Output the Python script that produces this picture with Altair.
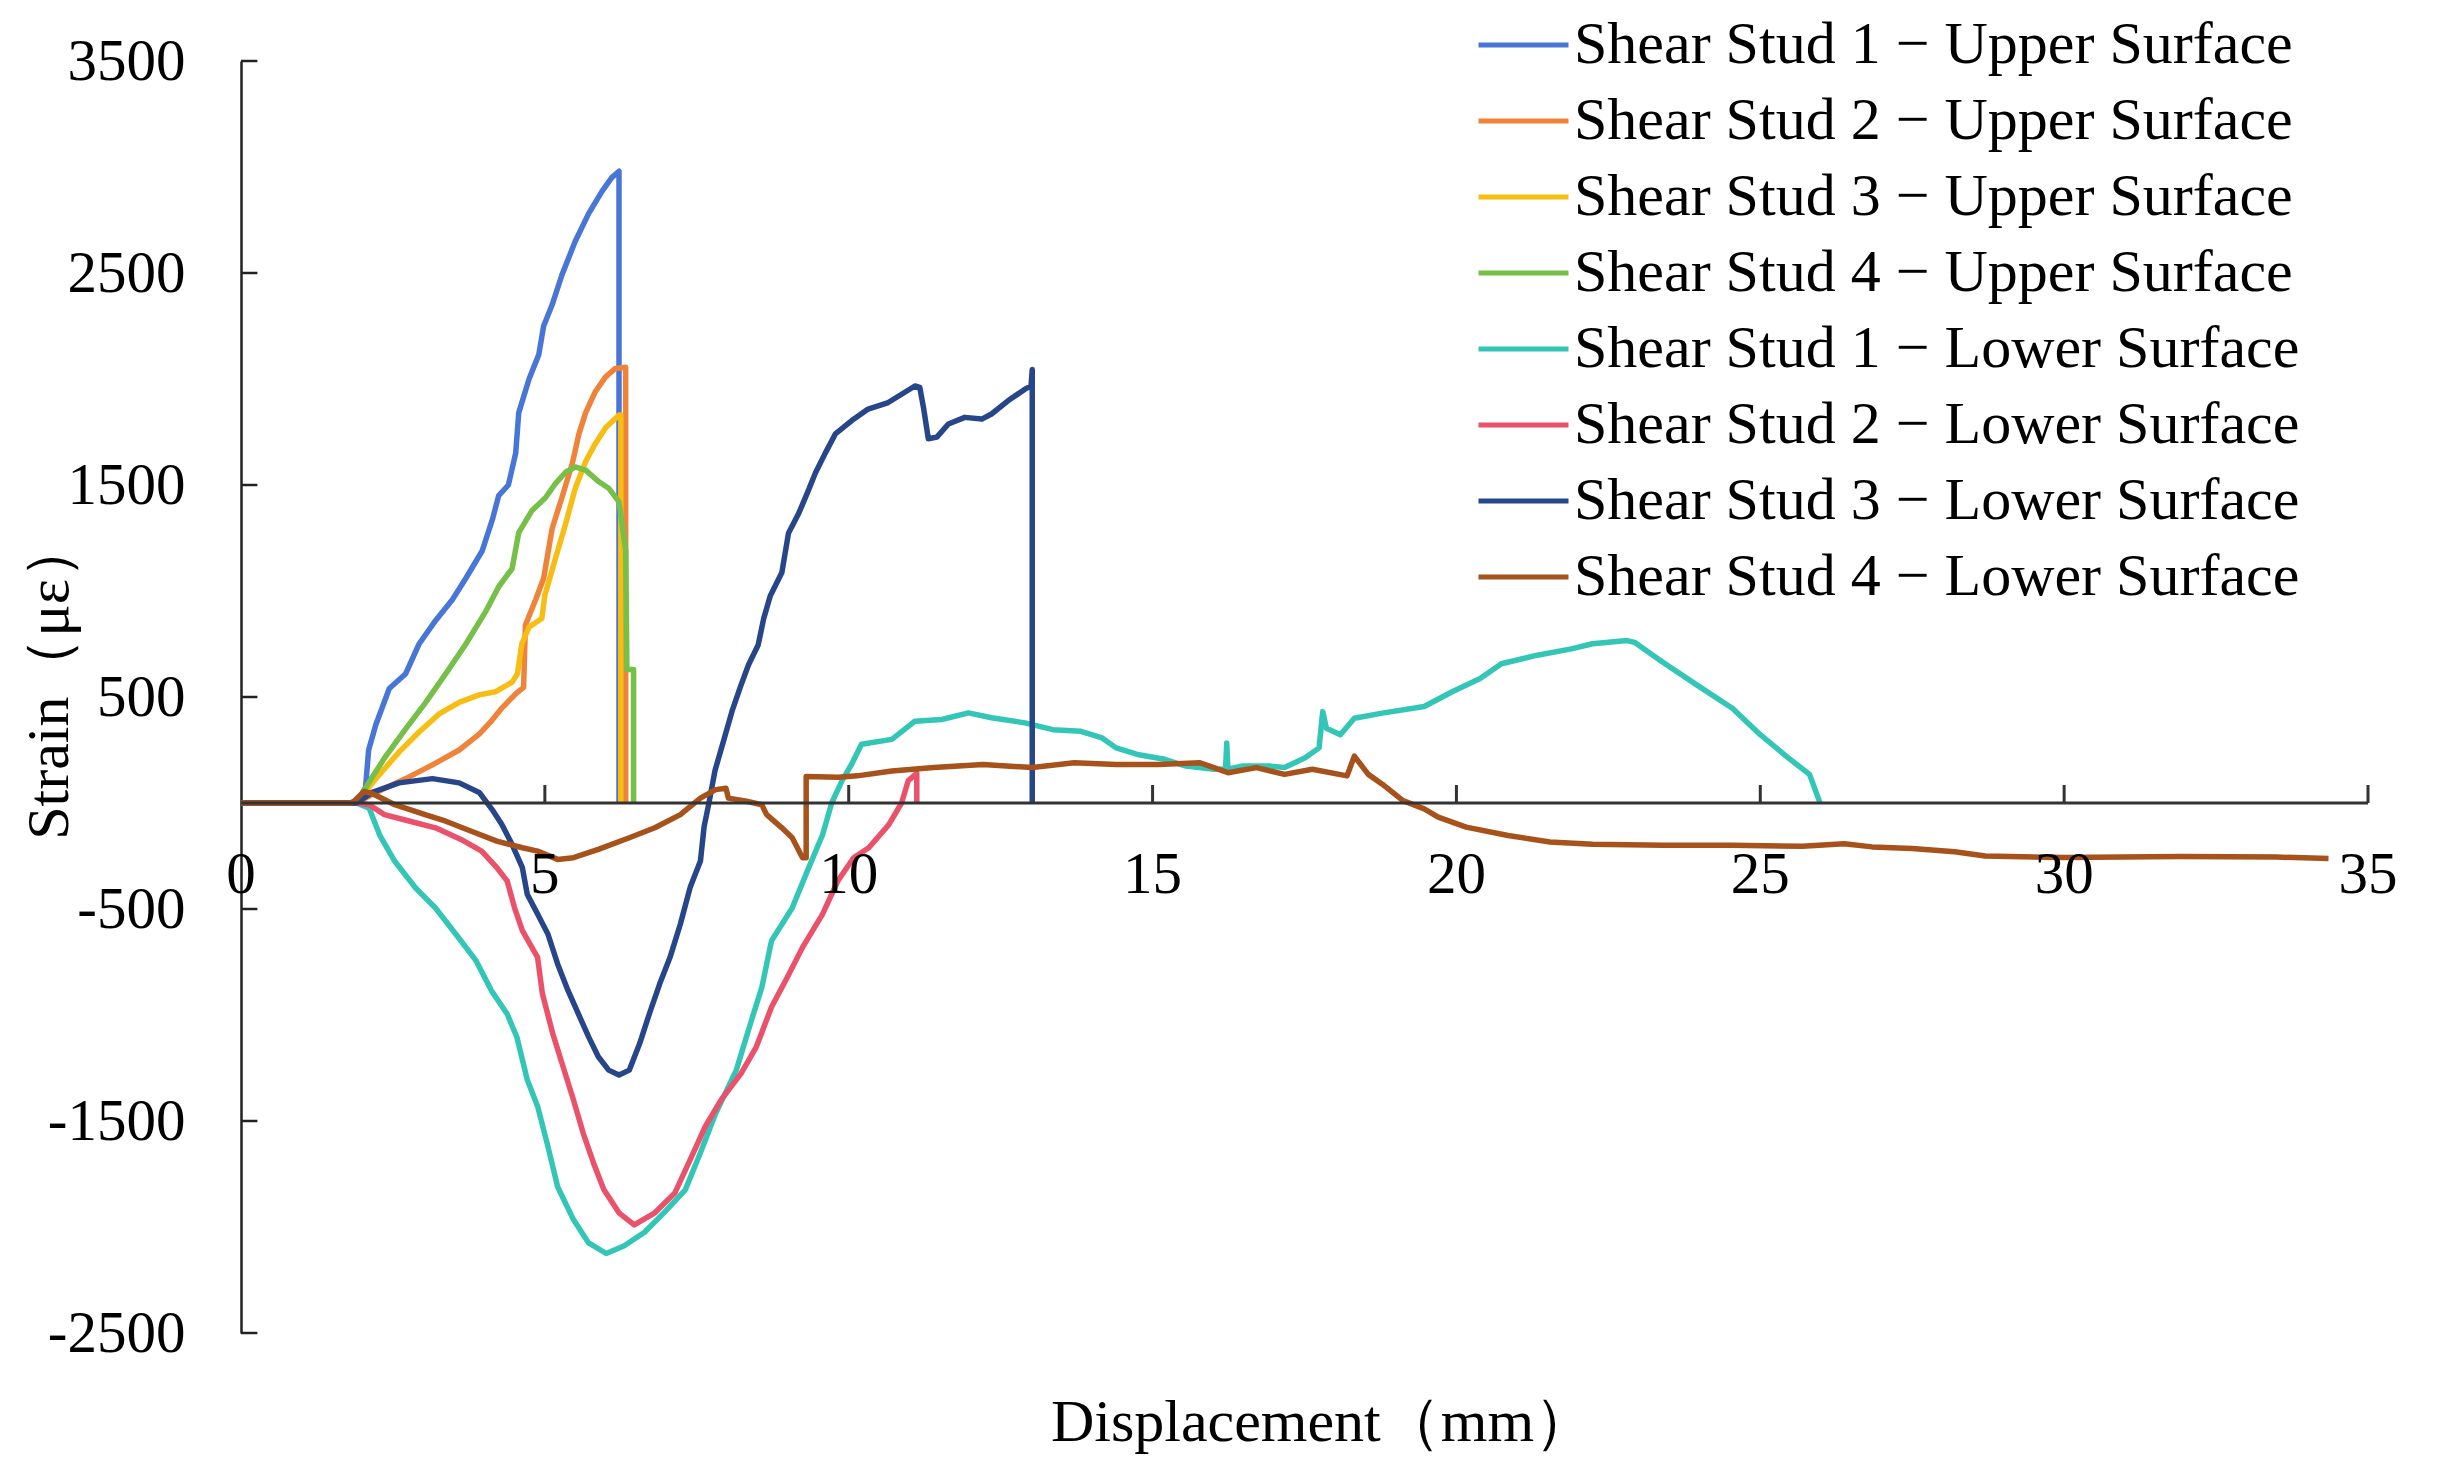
import altair as alt
import pandas as pd

# ---------------- data ----------------
series_names = [
    "Shear Stud 1 − Upper Surface",
    "Shear Stud 2 − Upper Surface",
    "Shear Stud 3 − Upper Surface",
    "Shear Stud 4 − Upper Surface",
    "Shear Stud 1 − Lower Surface",
    "Shear Stud 2 − Lower Surface",
    "Shear Stud 3 − Lower Surface",
    "Shear Stud 4 − Lower Surface",
]
colors = ["#4876d6", "#f0833a", "#f7bd12", "#76bf48",
          "#33c6b7", "#e9526a", "#27468a", "#a6521a"]

s1u_x = [0, 1.9, 2.05, 2.1, 2.22, 2.44, 2.71, 2.93, 3.2, 3.48, 3.7, 3.97, 4.14, 4.24, 4.4,
         4.52, 4.57, 4.74, 4.9, 4.98, 5.12, 5.28, 5.5, 5.72, 5.94, 6.1, 6.22, 6.22]
s1u_y = [0, 0, 75, 250, 370, 540, 610, 750, 860, 960, 1060, 1190, 1340, 1450, 1500,
         1650, 1840, 2000, 2115, 2250, 2350, 2490, 2650, 2780, 2885, 2950, 2980, 0]

s2u_x = [0, 1.9, 2.22, 2.71, 3.15, 3.59, 3.92, 4.13, 4.3, 4.52, 4.65, 4.68, 4.85, 4.98,
         5.12, 5.28, 5.45, 5.56, 5.67, 5.83, 6.0, 6.16, 6.33, 6.33]
s2u_y = [0, 0, 50, 115, 180, 250, 325, 390, 450, 515, 545, 840, 960, 1060,
         1295, 1440, 1600, 1740, 1840, 1940, 2010, 2050, 2055, 0]

s3u_x = [0, 1.9, 2.22, 2.6, 2.93, 3.26, 3.59, 3.92, 4.19, 4.46, 4.55, 4.62, 4.74, 4.95,
         5.0, 5.17, 5.34, 5.5, 5.67, 5.83, 6.0, 6.22, 6.25, 6.25]
s3u_y = [0, 0, 115, 240, 335, 420, 475, 510, 525, 570, 610, 750, 830, 870,
         980, 1150, 1315, 1485, 1610, 1695, 1770, 1830, 1830, 0]

s4u_x = [0, 1.9, 2.1, 2.38, 2.71, 3.04, 3.37, 3.7, 4.03, 4.24, 4.46, 4.57, 4.79, 5.01,
         5.17, 5.34, 5.5, 5.67, 5.89, 6.05, 6.22, 6.33, 6.35, 6.46, 6.46]
s4u_y = [0, 0, 95, 220, 350, 475, 610, 750, 905, 1020, 1105, 1275, 1380, 1440,
         1505, 1560, 1585, 1570, 1515, 1485, 1420, 1190, 630, 630, 0]

s1l_x = [0, 1.9, 2.11, 2.28, 2.53, 2.87, 3.2, 3.54, 3.87, 4.12, 4.38, 4.54, 4.71, 4.88,
         5.05, 5.21, 5.47, 5.72, 6.01, 6.3, 6.64, 6.97, 7.31, 7.56, 7.81, 8.15, 8.4, 8.57,
         8.73, 9.07, 9.32, 9.57, 9.72, 9.89, 10.05, 10.21, 10.71, 11.09, 11.53, 11.97,
         12.35, 12.9, 13.36, 13.82, 14.17, 14.4, 14.75, 15.2, 15.55, 16.01, 16.2, 16.22,
         16.24, 16.47, 16.94, 17.17, 17.51, 17.74, 17.8, 17.86, 18.09, 18.32, 18.78,
         19.47, 19.93, 20.39, 20.74, 21.31, 21.89, 22.24, 22.81, 22.93, 23.39, 23.96,
         24.54, 25.0, 25.46, 25.81, 25.98]
s1l_y = [0, 0, -25, -150, -275, -400, -495, -620, -745, -885, -995, -1105, -1305, -1430,
         -1620, -1810, -1965, -2075, -2125, -2090, -2025, -1930, -1825, -1650, -1465, -1260,
         -1025, -870, -650, -495, -320, -150, 0, 106, 184, 277, 300, 386, 394, 425,
         402, 378, 346, 338, 307, 260, 229, 206, 174, 159, 160, 283,
         160, 174, 174, 167, 213, 260, 431, 353, 322, 400, 424,
         455, 525, 587, 657, 696, 727, 751, 766, 758, 665, 556,
         447, 322, 213, 135, 3]

s2l_x = [0, 1.9, 2.11, 2.36, 2.78, 3.2, 3.62, 3.96, 4.21, 4.38, 4.5, 4.63, 4.88, 4.96,
         5.13, 5.3, 5.47, 5.63, 5.8, 5.97, 6.22, 6.47, 6.81, 7.14, 7.39, 7.64, 7.9, 8.23,
         8.48, 8.73, 8.99, 9.24, 9.57, 9.82, 10.08, 10.33, 10.66, 10.87, 10.98, 11.12, 11.12]
s2l_y = [0, 0, -8, -55, -86, -117, -172, -227, -305, -368, -493, -602, -728, -900,
         -1088, -1244, -1400, -1557, -1698, -1823, -1933, -1990, -1933, -1839, -1683, -1526,
         -1400, -1275, -1150, -962, -822, -681, -524, -368, -258, -211, -102, 0, 106, 140, 0]

s3l_x = [0, 1.9, 2.16, 2.6, 3.15, 3.59, 3.92, 4.13, 4.29, 4.46, 4.63, 4.71, 4.88, 5.05,
         5.21, 5.38, 5.55, 5.72, 5.88, 6.05, 6.22, 6.39, 6.56, 6.72, 6.89, 7.06, 7.23,
         7.39, 7.56, 7.62, 7.7, 7.8, 7.94, 8.08, 8.21, 8.35, 8.51, 8.6, 8.71, 8.9, 9.01,
         9.18, 9.34, 9.45, 9.61, 9.78, 10.05, 10.32, 10.65, 10.87, 11.09, 11.17, 11.23,
         11.31, 11.45, 11.64, 11.91, 12.19, 12.35, 12.62, 12.9, 13.0, 13.02, 13.02]
s3l_y = [0, 0, 50, 95, 115, 95, 50, -30, -100, -195, -305, -430, -524, -618,
         -759, -884, -994, -1103, -1197, -1260, -1283, -1260, -1135, -994, -853, -728, -571,
         -399, -274, -112, 0, 153, 293, 433, 542, 651, 745, 869, 978, 1087, 1274,
         1368, 1477, 1555, 1648, 1741, 1804, 1858, 1889, 1928, 1967, 1960, 1866,
         1718, 1726, 1788, 1819, 1811, 1835, 1897, 1952, 1967, 2045, 0]

s4l_x = [0, 1.8, 1.86, 2.03, 2.2, 2.53, 3.03, 3.37, 3.79, 4.21, 4.63, 4.88, 5.21, 5.47,
         5.88, 6.39, 6.81, 7.23, 7.56, 7.81, 7.98, 8.02, 8.32, 8.57, 8.65, 8.9, 9.07, 9.24,
         9.3, 9.3, 9.83, 10.14, 10.71, 11.4, 12.21, 13.02, 13.71, 14.4, 15.09, 15.78, 16.24,
         16.71, 17.17, 17.63, 18.2, 18.32, 18.55, 18.78, 19.12, 19.47, 19.7, 20.16, 20.85,
         21.54, 22.24, 23.39, 24.54, 25.69, 26.38, 26.84, 27.5, 28.2, 28.7, 30.0, 31.9,
         33.5, 34.35]
s4l_y = [0, 0, 8, 55, 39, -8, -55, -86, -133, -180, -211, -227, -266, -258,
         -219, -164, -117, -55, 23, 63, 70, 23, 8, -8, -55, -117, -164, -258,
         -258, 125, 121, 128, 151, 167, 182, 167, 190, 182, 182, 190, 143,
         167, 135, 159, 128, 221, 135, 89, 11, -28, -67, -114, -153,
         -184, -195, -199, -199, -204, -192, -207, -215, -230, -250, -257, -252,
         -255, -262]

all_x = [s1u_x, s2u_x, s3u_x, s4u_x, s1l_x, s2l_x, s3l_x, s4l_x]
all_y = [s1u_y, s2u_y, s3u_y, s4u_y, s1l_y, s2l_y, s3l_y, s4l_y]

x_ticks = [5, 10, 15, 20, 25, 30, 35]
x_labels = [0, 5, 10, 15, 20, 25, 30, 35]
y_ticks = [-2500, -1500, -500, 500, 1500, 2500, 3500]

rows = []
for name, xs, ys in zip(series_names, all_x, all_y):
    for i, (xv, yv) in enumerate(zip(xs, ys)):
        rows.append({"series": name, "disp": xv, "strain": yv, "idx": i})
df = pd.DataFrame(rows)

FONT = "Liberation Serif"
FS = 60
W, H = 2127, 1272

xscale = alt.Scale(domain=[0, 35], nice=False, zero=False)
yscale = alt.Scale(domain=[-2500, 3500], nice=False, zero=False)

lines = alt.Chart(df).mark_line(strokeWidth=5.5, strokeJoin="round", strokeCap="butt").encode(
    x=alt.X("disp:Q", scale=xscale,
            axis=alt.Axis(title="Displacement（mm）", domain=False, ticks=False, labels=False,
                          grid=False, titleFont=FONT, titleFontSize=FS, titleFontWeight="normal",
                          titleColor="black", titleX=1081, titleY=107, titleAlign="center",
                          titleBaseline="alphabetic")),
    y=alt.Y("strain:Q", scale=yscale,
            axis=alt.Axis(values=y_ticks, title="Strain（με）", ticks=False, grid=False,
                          domain=True, domainColor="#222222", domainWidth=2.5,
                          labelFont=FONT, labelFontSize=59, labelColor="black",
                          labelPadding=56, labelExpr="'' + datum.value",
                          titleFont=FONT, titleFontSize=FS, titleFontWeight="normal",
                          titleColor="black", titleAngle=270, titleX=-192, titleY=618,
                          titleAlign="center", titleBaseline="middle")),
    color=alt.Color("series:N", scale=alt.Scale(domain=series_names, range=colors),
                    legend=alt.Legend(title=None, orient="none", legendX=1235, legendY=-54,
                                      symbolType="stroke", symbolSize=8100, symbolStrokeWidth=5,
                                      labelFont=FONT, labelFontSize=FS, labelColor="black",
                                      labelLimit=2000, labelOffset=3, rowPadding=0,
                                      clipHeight=76, padding=0)),
    order=alt.Order("idx:Q"),
)

zero_axis = alt.Chart(pd.DataFrame({"a": [0]})).mark_rule(color="#333333", strokeWidth=3).encode(
    x=alt.X(datum=0, scale=xscale),
    x2=alt.X2(datum=35),
    y=alt.Y(datum=0, scale=yscale),
)

xtick_rules = alt.Chart(pd.DataFrame({"t": x_ticks})).mark_rule(color="#333333", strokeWidth=3).encode(
    x=alt.X("t:Q", scale=xscale),
    y=alt.Y(datum=0, scale=yscale),
    y2=alt.Y2(datum=85),
)

ytick_rules = alt.Chart(pd.DataFrame({"t": y_ticks})).mark_rule(color="#222222", strokeWidth=2.5).encode(
    y=alt.Y("t:Q", scale=yscale),
    x=alt.X(datum=0, scale=xscale),
    x2=alt.X2(datum=0.27),
)

xlabel_text = alt.Chart(pd.DataFrame({"t": x_labels, "lab": [str(v) for v in x_labels]})).mark_text(
    font=FONT, fontSize=59, color="black", align="center", baseline="alphabetic", dy=90
).encode(
    x=alt.X("t:Q", scale=xscale),
    y=alt.Y(datum=0, scale=yscale),
    text="lab:N",
)

chart = alt.layer(lines, zero_axis, xtick_rules, ytick_rules, xlabel_text).properties(
    width=W, height=H,
    autosize=alt.AutoSizeParams(type="none"),
    padding={"left": 233, "top": 53, "right": 65, "bottom": 128},
    background="white",
).configure_view(stroke=None)

chart.save("out.html", embed_options={"renderer": "svg", "actions": False})
